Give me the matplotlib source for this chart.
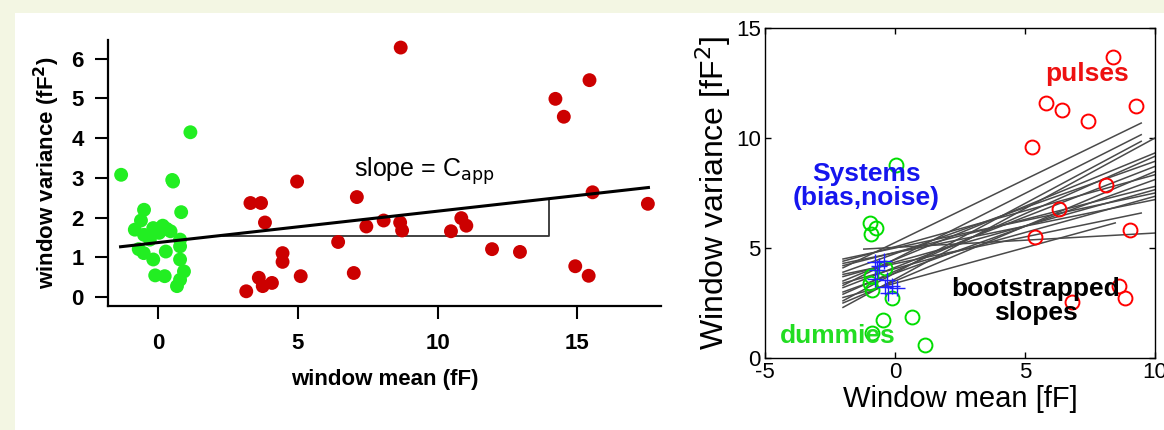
import matplotlib
matplotlib.use("Agg")
from matplotlib import pyplot as plt
from matplotlib.patches import Rectangle

plt.rcParams['font.family'] = ['Liberation Sans', 'DejaVu Sans']
plt.rcParams['axes.unicode_minus'] = False

# ---- left panel: window mean vs window variance ----
dummy_x = [-1.33, 1.15, 0.53, 0.50, 0.82, -0.51, -0.62, -0.84, -0.51, -0.18, 0.16, 0.44, 0.03,
           0.78, 0.78, -0.70, -0.52, -0.18, 0.27, 0.78, 0.92, 0.78, 0.67, -0.11, 0.23, -0.30, 0.30]
dummy_y = [3.08, 4.15, 2.91, 2.95, 2.14, 2.20, 1.93, 1.70, 1.57, 1.74, 1.80, 1.66, 1.62,
           1.45, 1.28, 1.21, 1.11, 0.95, 1.15, 0.95, 0.65, 0.44, 0.28, 0.55, 0.53, 1.45, 1.72]

pulse_x = [8.68, 14.22, 14.52, 15.44, 15.55, 4.97, 3.30, 3.68, 3.82, 7.11, 7.45, 8.07, 8.66,
           8.73, 10.85, 11.03, 10.48, 6.44, 11.95, 12.95, 4.45, 4.45, 5.10, 7.00, 3.60, 3.74,
           4.07, 3.15, 14.93, 15.41, 17.53]
pulse_y = [6.28, 4.99, 4.54, 5.46, 2.64, 2.91, 2.37, 2.37, 1.88, 2.52, 1.78, 1.93, 1.88,
           1.68, 1.99, 1.80, 1.66, 1.39, 1.21, 1.14, 1.11, 0.89, 0.53, 0.61, 0.49, 0.28,
           0.36, 0.15, 0.78, 0.54, 2.35]

fit_x = [-1.35, 17.55]
fit_y = [1.27, 2.76]
tri_x = [2.33, 14.0, 14.0]
tri_y = [1.55, 1.55, 2.46]

left_xticks = [0, 5, 10, 15]
left_yticks = [0, 1, 2, 3, 4, 5, 6]

# ---- right panel ----
r_pulse_x = [8.40, 5.79, 6.41, 7.44, 9.26, 5.27, 8.12, 6.32, 5.38, 9.05, 8.63, 8.84, 6.82]
r_pulse_y = [13.68, 11.59, 11.26, 10.76, 11.44, 9.59, 7.88, 6.77, 5.50, 5.80, 3.26, 2.73, 2.53]

r_dummy_x = [0.04, -0.96, -0.73, -0.94, -0.92, -0.96, -0.90, -0.38, -0.13, -0.47, 0.64, -0.90, 1.15]
r_dummy_y = [8.76, 6.12, 5.89, 5.64, 3.71, 3.39, 3.09, 4.08, 2.71, 1.73, 1.85, 1.12, 0.59]

sys_x = [-0.77, -0.42, -0.68, -0.77, -0.32, -0.38, -0.13, 0.06, -0.26, -0.60]
sys_y = [4.38, 4.42, 4.00, 3.59, 3.55, 3.24, 3.27, 3.17, 2.94, 4.20]

boot_x0 = [-2, -2, -2, -2, -2, -2, -2, -2, -2, -2, -2, -2, -2, -2, -2, -2, -2, -2, -1.2]
boot_y0 = [4.1, 3.3, 2.3, 2.6, 3.5, 2.9, 3.9, 3.2, 2.5, 4.4, 3.0, 4.2, 3.7, 4.5, 3.4, 4.3, 3.8, 2.75, 4.95]
boot_x1 = [9.47, 9.47, 10, 9.47, 10, 10, 10, 10, 10, 10, 10, 10, 10, 10, 10, 10, 9.47, 8.47, 10]
boot_y1 = [10.68, 10.15, 10.0, 9.85, 9.32, 9.17, 8.94, 8.71, 8.48, 8.33, 8.11, 7.80, 7.65, 7.50,
           7.35, 7.20, 6.59, 6.14, 5.68]

right_ticks_x = [-5, 0, 5, 10]
right_ticks_y = [0, 5, 10, 15]

fig = plt.figure(figsize=(11.64, 4.30), dpi=100)
fig.patch.set_facecolor("#f3f6e3")
fig.patches.append(Rectangle((15 / 1164, 0), 1, (430 - 13) / 430, transform=fig.transFigure,
                             facecolor="white", edgecolor="none", zorder=-10))

ax1 = fig.add_axes([108 / 1164, (430 - 306) / 430, (661 - 108) / 1164, (306 - 40) / 430])
ax1.set_facecolor("none")
ax1.scatter(dummy_x, dummy_y, s=100, color="#22ee22", edgecolors="none", zorder=3)
ax1.scatter(pulse_x, pulse_y, s=100, color="#cc0000", edgecolors="none", zorder=3)
ax1.plot(fit_x, fit_y, color="black", lw=2.2, zorder=4)
ax1.plot(tri_x, tri_y, color="#333333", lw=1.3, zorder=2)
ax1.text(7.0, 3.16, "slope = C$_{\\rm app}$", fontsize=18, va="center", ha="left")
ax1.set_xlim(-1.8, 18.0)
ax1.set_ylim(-0.22, 6.47)
ax1.set_xticks(left_xticks)
ax1.set_yticks(left_yticks)
for s in ["top", "right"]:
    ax1.spines[s].set_visible(False)
for s in ["left", "bottom"]:
    ax1.spines[s].set_linewidth(1.6)
ax1.tick_params(length=9.5, width=1.5, labelsize=16, pad=8)
ax1.tick_params(axis="x", pad=10)
for lab in ax1.get_xticklabels() + ax1.get_yticklabels():
    lab.set_fontweight("bold")
ax1.set_xlabel("window mean (fF)", fontsize=16, fontweight="bold", labelpad=11)
ax1.set_ylabel("window variance (fF$^\\mathbf{2}$)", fontsize=16, fontweight="bold", labelpad=7)

ax2 = fig.add_axes([765 / 1164, (430 - 358) / 430, (1155 - 765) / 1164, (358 - 28) / 430])
ax2.set_facecolor("none")
for x0, y0, x1, y1 in zip(boot_x0, boot_y0, boot_x1, boot_y1):
    ax2.plot([x0, x1], [y0, y1], color="#4a4a4a", lw=1.1, zorder=2)
ax2.plot(r_pulse_x, r_pulse_y, "o", mfc="none", mec="#ff0000", ms=10, mew=1.4, zorder=3)
ax2.plot(r_dummy_x, r_dummy_y, "o", mfc="none", mec="#00dd00", ms=10, mew=1.4, zorder=3)
ax2.plot(sys_x, sys_y, "+", color="#2020ff", ms=11, mew=1.0, zorder=4)
ax2.text(7.4, 12.9, "pulses", color="#ee1111", fontsize=19, fontweight="bold", ha="center", va="center")
ax2.text(-1.1, 7.8, "Systems\n(bias,noise)", color="#1515ee", fontsize=19, fontweight="bold",
         ha="center", va="center", linespacing=1.0)
ax2.text(-2.2, 0.98, "dummies", color="#22dd22", fontsize=19, fontweight="bold", ha="center", va="center")
ax2.text(5.42, 2.6, "bootstrapped\nslopes", color="black", fontsize=19, fontweight="bold",
         ha="center", va="center", linespacing=1.0)
ax2.set_xlim(-5, 10)
ax2.set_ylim(0, 15)
ax2.set_xticks(right_ticks_x)
ax2.set_yticks(right_ticks_y)
ax2.tick_params(direction="in", top=True, right=True, length=4, width=1, labelsize=16, pad=3)
for s in ax2.spines.values():
    s.set_linewidth(1.0)
ax2.set_xlabel("Window mean [fF]", fontsize=21, labelpad=1)
ax2.set_ylabel("Window variance [fF$^2$]", fontsize=23, labelpad=2)

fig.savefig("out.png", dpi=100, facecolor=fig.get_facecolor())
